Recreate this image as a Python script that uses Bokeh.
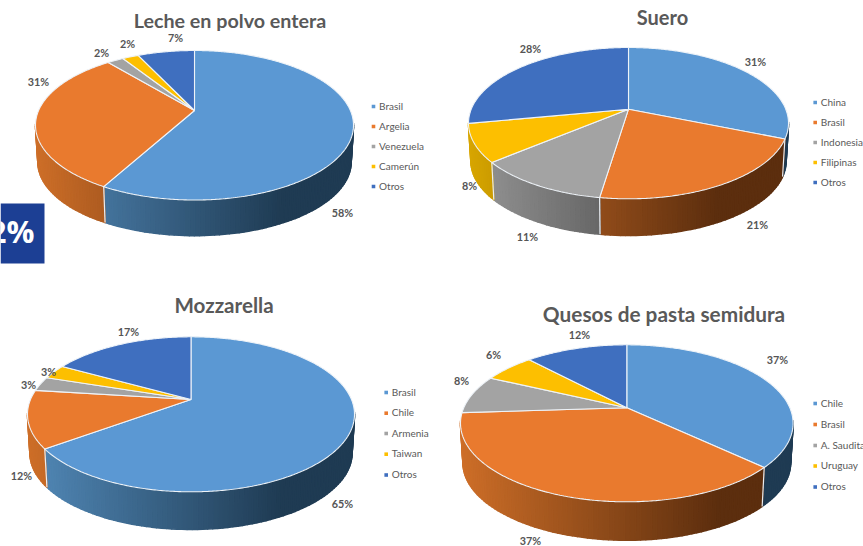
import numpy as np
from bokeh.plotting import figure
from bokeh.embed import file_html
from bokeh.resources import INLINE
from bokeh.core.properties import value

# ---- data ----
titles = ["Leche en polvo entera", "Suero", "Mozzarella", "Quesos de pasta semidura"]
leche_names = ["Brasil", "Argelia", "Venezuela", "Camerún", "Otros"]
leche_values = [58, 31, 2, 2, 7]
suero_names = ["China", "Brasil", "Indonesia", "Filipinas", "Otros"]
suero_values = [31.2, 21.2, 11.5, 8.1, 28]
suero_labels = ["31%", "21%", "11%", "8%", "28%"]
mozz_names = ["Brasil", "Chile", "Armenia", "Taiwan", "Otros"]
mozz_values = [65, 12, 3, 3, 17]
quesos_names = ["Chile", "Brasil", "A. Saudita", "Uruguay", "Otros"]
quesos_values = [37, 37, 8, 6, 12]
quesos_labels = ["37%", "37%", "8%", "6%", "12%"]
leche_labels = ["58%", "31%", "2%", "2%", "7%"]
mozz_labels = ["65%", "12%", "3%", "3%", "17%"]

# ---- styles ----
face = ["#5b98d3", "#e97a2e", "#a3a3a3", "#fdbf00", "#3f6fbf"]
lit = [(82, 137, 184), (205, 110, 40), (150, 150, 150), (215, 165, 0), (60, 100, 170)]
dark = [(31, 59, 83), (92, 46, 14), (62, 62, 62), (96, 72, 0), (25, 45, 85)]
TXT = "#595959"

pies = [
    dict(v=leche_values, n=leche_names, l=leche_labels, t=titles[0],
         cx=194, a=159, top=50, bot=199.5, ay=110, d=37,
         tp=(229.5, 20), ts="19.7px", lx=373, ly=[105, 125, 145, 165, 185],
         lp=[(342, 212), (38, 81), (101, 52), (127, 43), (175, 37)]),
    dict(v=suero_values, n=suero_names, l=suero_labels, t=titles[1],
         cx=628, a=160, top=47, bot=198.3, ay=108.7, d=38,
         tp=(662, 16.5), ts="20px", lx=814.7, ly=[101, 121, 141, 161, 181],
         lp=[(755, 61), (757, 224), (527, 236), (469, 185), (530, 48)]),
    dict(v=mozz_values, n=mozz_names, l=mozz_labels, t=titles[2],
         cx=190.5, a=163.5, top=336.3, bot=491.3, ay=399, d=39,
         tp=(223.5, 304.5), ts="20.6px", lx=385.7, ly=[391, 411.7, 432, 452.7, 473.5],
         lp=[(342, 503), (21, 475), (28, 384), (48, 371), (128, 331)]),
    dict(v=quesos_values, n=quesos_names, l=quesos_labels, t=titles[3],
         cx=626.3, a=166.3, top=344.3, bot=501.3, ay=407.3, d=39.8,
         tp=(663.5, 313), ts="20.8px", lx=814.7, ly=[402, 423, 444, 464.5, 485.5],
         lp=[(777, 359), (530, 539.5), (461, 380), (493, 354), (579, 334)]),
]

p = figure(width=863, height=546, x_range=(0, 863), y_range=(546, 0),
           output_backend="svg", toolbar_location=None, min_border=0,
           x_axis_type=None, y_axis_type=None, outline_line_color=None,
           background_fill_color="white", border_fill_color="white")
p.grid.visible = False


def project(pie, theta, extrude=False):
    """Perspective view of a circle: clockwise angle from the top to page pixels."""
    rt, rb = pie["ay"] - pie["top"], pie["bot"] - pie["ay"]
    k = (rt - rb) / (rt + rb)
    bb = rb * (1 + k)
    aa = pie["a"] * np.sqrt(1 - k * k)
    u, w_v = np.sin(theta), -np.cos(theta)
    w = 1 + k * w_v
    s = 0.985 if extrude else 1.0
    x = pie["cx"] + s * aa * u / w
    y = pie["ay"] + s * bb * w_v / w + (pie["d"] if extrude else 0)
    return x, y, w_v


def rgb(c):
    return "#%02x%02x%02x" % tuple(int(round(q)) for q in c)


for pie in pies:
    vals = np.array(pie["v"], dtype=float)
    edges = np.concatenate([[0], np.cumsum(vals)]) / vals.sum() * 2 * np.pi
    wx, wy, wc = [], [], []
    sep_x0, sep_y0, sep_x1, sep_y1 = [], [], [], []
    for i in range(len(vals)):
        ts = np.linspace(edges[i], edges[i + 1], max(3, int((edges[i + 1] - edges[i]) / np.radians(1.5))))
        xt, yt, vt = project(pie, ts)
        xb, yb, _ = project(pie, ts, True)
        for j in range(len(ts) - 1):
            if vt[j] < 0.19 and vt[j + 1] < 0.19:
                continue
            wx.append([xt[j], xt[j + 1], xb[j + 1], xb[j]])
            wy.append([yt[j], yt[j + 1], yb[j + 1], yb[j]])
            f = min(((xt[j] - pie["cx"] + pie["a"]) / (2 * pie["a"])) / 0.78, 1.0)
            wc.append(rgb(np.array(lit[i]) * (1 - f) + np.array(dark[i]) * f))
        if vt[0] > 0.2:
            sep_x0.append(xt[0]); sep_y0.append(yt[0]); sep_x1.append(xb[0]); sep_y1.append(yb[0])
    p.patches(wx, wy, fill_color=wc, line_color=wc, line_width=1.6, line_join="round")
    p.segment(sep_x0, sep_y0, sep_x1, sep_y1, line_color="#e9edf2", line_width=1.2)

    fx, fy = [], []
    for i in range(len(vals)):
        ts = np.linspace(edges[i], edges[i + 1], max(3, int((edges[i + 1] - edges[i]) / np.radians(0.6))))
        xt, yt, _ = project(pie, ts)
        fx.append([pie["cx"], *xt])
        fy.append([pie["ay"], *yt])
    p.patches(fx, fy, fill_color=face, line_color="#eef3f8", line_width=1.1)

    # data labels
    p.text([q[0] for q in pie["lp"]], [q[1] for q in pie["lp"]], text=pie["l"],
           text_font=value("Lato"), text_font_size="10.8px", text_font_style="bold",
           text_color="#555555", text_align="center", text_baseline="middle")
    # legend
    p.rect([pie["lx"]] * 5, [y + 1 for y in pie["ly"]], width=3.6, height=3.6, fill_color=face, line_color=None)
    p.text([pie["lx"] + 5.6] * 5, pie["ly"], text=pie["n"],
           text_font=value("Lato"), text_font_size="10px", text_color=TXT,
           text_align="left", text_baseline="middle")
    # title
    p.text([pie["tp"][0]], [pie["tp"][1]], text=[pie["t"]],
           text_font=value("Lato"), text_font_size=pie["ts"], text_font_style="bold",
           text_color=TXT, text_align="center", text_baseline="middle")

# cropped badge at the left edge
p.quad(left=[0], right=[44], top=[203], bottom=[263], fill_color="#1c3f94", line_color=None)
p.text([34], [230.5], text=["2%"], text_font=value("Open Sans"), text_font_size="31px",
       text_font_style="bold", text_color="white", text_align="right", text_baseline="middle")

open("out.html", "w").write(file_html(p, INLINE))
